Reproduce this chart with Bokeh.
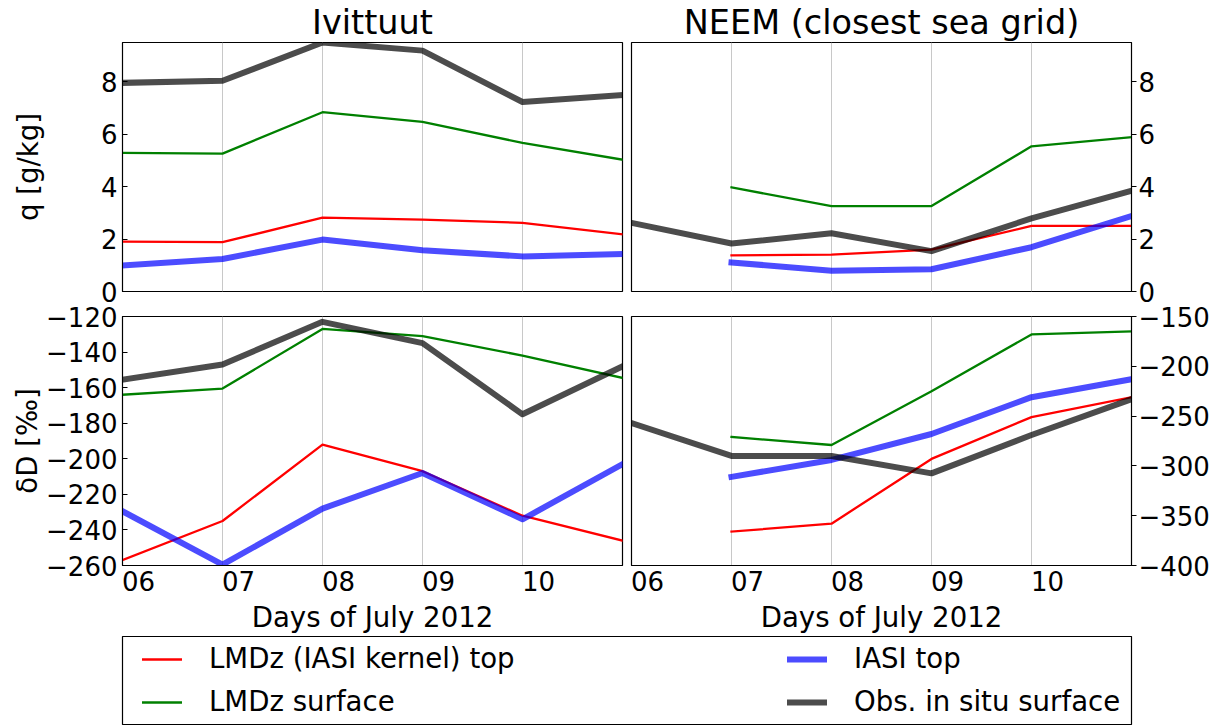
from bokeh.plotting import figure
from bokeh.models import (Range1d, FixedTicker, Grid, Legend, LegendItem,
                          CustomJSTickFormatter, ColumnDataSource)
from bokeh.layouts import column, row
from bokeh.embed import file_html
from bokeh.resources import INLINE

# ---------------- data ----------------
days = [6, 7, 8, 9, 10, 11]
days_neem = [7, 8, 9, 10, 11]

ivi_q_lmdz_top = [1.90, 1.88, 2.82, 2.74, 2.62, 2.18]
ivi_q_lmdz_sfc = [5.29, 5.26, 6.84, 6.47, 5.67, 5.03]
ivi_q_iasi = [0.99, 1.24, 1.98, 1.57, 1.34, 1.43]
ivi_q_obs = [7.96, 8.04, 9.50, 9.19, 7.23, 7.50]

neem_q_lmdz_top = [1.38, 1.41, 1.60, 2.50, 2.50]
neem_q_lmdz_sfc = [3.97, 3.26, 3.26, 5.54, 5.89]
neem_q_iasi = [1.11, 0.79, 0.85, 1.69, 2.88]
neem_q_obs = [2.62, 1.83, 2.22, 1.54, 2.79, 3.84]

ivi_dD_lmdz_top = [-257, -235, -192, -207, -232, -246]
ivi_dD_lmdz_sfc = [-164, -160.5, -127, -131, -142, -154.5]
ivi_dD_iasi = [-229.5, -259.5, -228, -208, -234, -203]
ivi_dD_obs = [-155.5, -147, -123, -135, -175, -148]

neem_dD_lmdz_top = [-366, -358, -293, -251, -231]
neem_dD_lmdz_sfc = [-271, -279, -225, -168, -165]
neem_dD_iasi = [-311, -294, -268, -231, -213]
neem_dD_obs = [-257, -290, -290, -307.5, -269, -233]

x_ticks = [6, 7, 8, 9, 10]
grid_days = [7, 8, 9, 10]
q_ticks = [0, 2, 4, 6, 8]
ivi_dD_ticks = [-260, -240, -220, -200, -180, -160, -140, -120]
neem_dD_ticks = [-400, -350, -300, -250, -200, -150]

labels = ["LMDz (IASI kernel) top", "LMDz surface", "IASI top", "Obs. in situ surface"]

# ---------------- styles ----------------
FONT = "DejaVu Sans"
TICK_FS = "26px"
LAB_FS = "27.6px"
TITLE_FS = "33.5px"
STY = {
    "top": dict(line_color="#ff0000", line_width=2.3, line_alpha=1.0),
    "sfc": dict(line_color="#008000", line_width=2.3, line_alpha=1.0),
    "iasi": dict(line_color="#0000ff", line_width=6, line_alpha=0.7),
    "obs": dict(line_color="#000000", line_width=6, line_alpha=0.7),
}

minus_fmt = CustomJSTickFormatter(code="return tick < 0 ? '\u2212' + Math.abs(tick) : String(tick);")
day_fmt = CustomJSTickFormatter(code="var d = Math.floor(tick + 1e-6); return (d < 10 ? '0' : '') + d;")

FRAME_W, FRAME_H = 500, 249


def make_fig(yr, yticks, right, bottom, title=None, ylabel=None, ylabel_standoff=5):
    p = figure(frame_width=FRAME_W, frame_height=FRAME_H,
               x_range=Range1d(6, 11), y_range=Range1d(*yr),
               output_backend="svg", toolbar_location=None,
               y_axis_location="right" if right else "left",
               x_axis_location="below" if bottom else None,
               min_border_left=5 if right else 122,
               min_border_right=80 if right else 4,
               min_border_top=16 if bottom else 42,
               min_border_bottom=66 if bottom else 16,
               background_fill_color="white", border_fill_color="white")
    if bottom:
        p.border_fill_alpha = 0
    p.outline_line_color = "black"
    p.outline_line_width = 1.2
    p.xgrid.visible = False
    p.ygrid.visible = False
    p.add_layout(Grid(dimension=0, ticker=FixedTicker(ticks=grid_days),
                      grid_line_color="#c8c8c8", grid_line_width=1))
    ya = p.yaxis[0]
    ya.ticker = FixedTicker(ticks=yticks)
    ya.formatter = minus_fmt
    ya.minor_tick_line_color = None
    ya.axis_line_color = "black"
    ya.major_tick_line_color = "black"
    if right:
        ya.major_tick_in = 0
        ya.major_tick_out = 5
        ya.major_label_standoff = 2
    else:
        ya.major_tick_in = 5
        ya.major_tick_out = 0
        ya.major_label_standoff = 5
    ya.major_label_text_font = FONT
    ya.major_label_text_font_size = TICK_FS
    ya.major_label_text_color = "black"
    if ylabel:
        ya.axis_label = ylabel
        ya.axis_label_text_font = FONT
        ya.axis_label_text_font_size = LAB_FS
        ya.axis_label_text_font_style = "normal"
        ya.axis_label_text_color = "black"
        ya.axis_label_standoff = ylabel_standoff
    if bottom:
        xa = p.xaxis[0]
        # labels sit just right of each day tick (as in the original)
        xa.ticker = FixedTicker(ticks=[t + 0.16 for t in x_ticks])
        xa.formatter = day_fmt
        xa.major_tick_in = 0
        xa.major_tick_out = 0
        xa.minor_tick_line_color = None
        xa.axis_line_color = "black"
        xa.major_label_standoff = 5
        xa.major_label_text_font = FONT
        xa.major_label_text_font_size = TICK_FS
        xa.major_label_text_color = "black"
        xa.axis_label = "Days of July 2012"
        xa.axis_label_text_font = FONT
        xa.axis_label_text_font_size = LAB_FS
        xa.axis_label_text_font_style = "normal"
        xa.axis_label_text_color = "black"
        xa.axis_label_standoff = 7
    if title:
        p.title.text = title
        p.title.align = "center"
        p.title.text_font = FONT
        p.title.text_font_size = TITLE_FS
        p.title.text_font_style = "normal"
        p.title.text_color = "black"
        p.title.standoff = 1
    return p


def draw(p, x_all, x_part, top, sfc, iasi, obs):
    kw = dict(line_join="round", line_cap="square")
    p.line(x_part if len(top) < len(x_all) else x_all, top, **kw, **STY["top"])
    p.line(x_part if len(sfc) < len(x_all) else x_all, sfc, **kw, **STY["sfc"])
    p.line(x_part if len(iasi) < len(x_all) else x_all, iasi, **kw, **STY["iasi"])
    p.line(x_all, obs, **kw, **STY["obs"])


p_tl = make_fig((0, 9.5), q_ticks, right=False, bottom=False, title="Ivittuut",
                ylabel="q [g/kg]", ylabel_standoff=53)
p_tr = make_fig((0, 9.5), q_ticks, right=True, bottom=False, title="NEEM (closest sea grid)")
p_bl = make_fig((-260, -120), ivi_dD_ticks, right=False, bottom=True,
                ylabel="\u03b4D [\u2030]", ylabel_standoff=-1)
p_br = make_fig((-400, -150), neem_dD_ticks, right=True, bottom=True)

draw(p_tl, days, days_neem, ivi_q_lmdz_top, ivi_q_lmdz_sfc, ivi_q_iasi, ivi_q_obs)
draw(p_tr, days, days_neem, neem_q_lmdz_top, neem_q_lmdz_sfc, neem_q_iasi, neem_q_obs)
draw(p_bl, days, days_neem, ivi_dD_lmdz_top, ivi_dD_lmdz_sfc, ivi_dD_iasi, ivi_dD_obs)
draw(p_br, days, days_neem, neem_dD_lmdz_top, neem_dD_lmdz_sfc, neem_dD_iasi, neem_dD_obs)

# ---------------- legend panel ----------------
p_leg = figure(frame_width=1009, frame_height=88, x_range=Range1d(0, 1), y_range=Range1d(0, 1),
               output_backend="svg", toolbar_location=None,
               x_axis_location=None, y_axis_location=None,
               min_border_left=122, min_border_right=80, min_border_top=0, min_border_bottom=1)
p_leg.outline_line_color = "black"
p_leg.outline_line_width = 1.2
p_leg.xgrid.visible = False
p_leg.ygrid.visible = False
rends = []
for key in ["top", "sfc", "iasi", "obs"]:
    # legend proxies: a single NaN point, nothing drawn in the frame
    src = ColumnDataSource(data=dict(x=[float("nan")], y=[float("nan")]))
    rends.append(p_leg.line(x="x", y="y", source=src, line_cap="square", **STY[key]))


def make_legend(items, loc):
    return Legend(items=items, location=loc, orientation="vertical",
                  border_line_alpha=0, background_fill_alpha=0,
                  label_text_font=FONT, label_text_font_size=LAB_FS, label_text_color="black",
                  glyph_width=40, glyph_height=30, label_height=30,
                  label_standoff=27, spacing=10, padding=0, margin=0)


leg1 = make_legend([LegendItem(label=labels[0], renderers=[rends[0]]),
                    LegendItem(label=labels[1], renderers=[rends[1]])], (20, 6))
leg2 = make_legend([LegendItem(label=labels[2], renderers=[rends[2]]),
                    LegendItem(label=labels[3], renderers=[rends[3]])], (665, 6))
p_leg.add_layout(leg1, "center")
p_leg.add_layout(leg2, "center")

layout = column(row(p_tl, p_tr), row(p_bl, p_br, margin=(-7, 0, 0, 0)), p_leg)

open("out.html", "w").write(file_html(layout, INLINE))
